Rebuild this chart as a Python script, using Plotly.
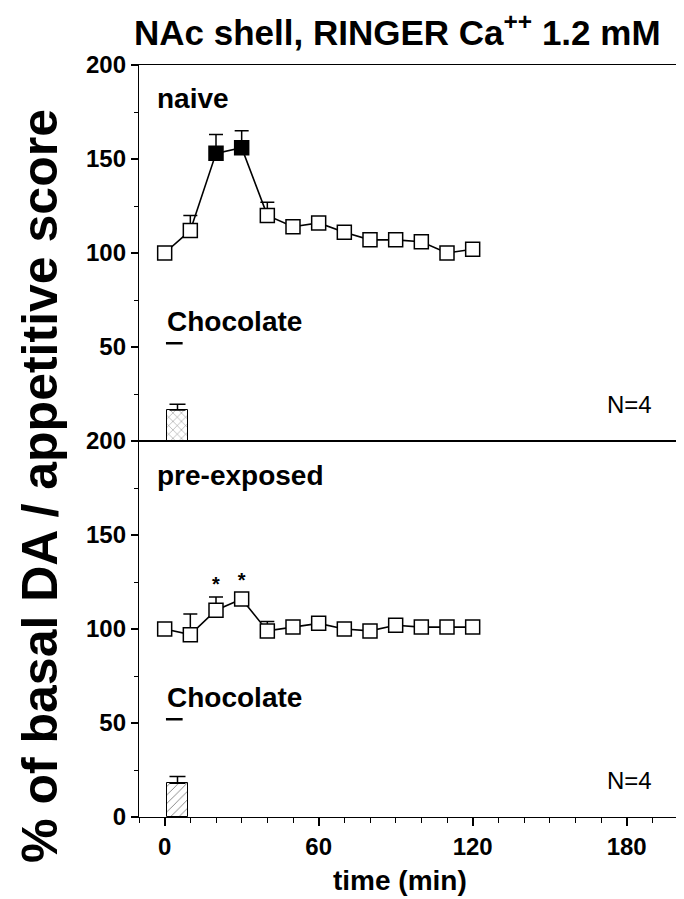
import plotly.graph_objects as go

# ---- data ----
time_min = [0, 10, 20, 30, 40, 50, 60, 70, 80, 90, 100, 110, 120]
naive_da = [100, 112, 153, 156, 120, 114, 116, 111, 107, 107, 106, 100, 102]
naive_err = [3, 8, 10, 9, 7, 3, 3, 3, 3, 3, 3, 3, 3]
naive_sig = [False, False, True, True, False, False, False, False, False, False, False, False, False]
pre_da = [100, 97, 110, 116, 99, 101, 103, 100, 99, 102, 101, 101, 101]
pre_err = [3, 11, 7, 3, 5, 3, 3, 3, 3, 3, 3, 3, 3]
pre_star = [False, False, True, True, False, False, False, False, False, False, False, False, False]

score_time = [5]
naive_score = [16.5]
naive_score_err = [3]
pre_score = [18]
pre_score_err = [3.5]

choc_x = [0.5, 7]
choc_level = 52

x_ticks = [0, 60, 120, 180]
y_ticks_top = [50, 100, 150, 200]
y_ticks_bottom = [0, 50, 100, 150, 200]

FONT = "Liberation Sans, Arial, Helvetica, sans-serif"

fig = go.Figure()

def add_panel(fig, vals, errs, filled, row_x, row_y, score, score_err, pattern):
    # score bar
    fig.add_trace(go.Bar(
        x=score_time, y=score, width=8, xaxis=row_x, yaxis=row_y,
        marker=dict(color="white", line=dict(color="black", width=1),
                    pattern=dict(shape=pattern, fgcolor="black", bgcolor="white",
                                 size=6, solidity=0.15)),
        error_y=dict(type="data", array=score_err, arrayminus=[0] * len(score),
                     symmetric=False, color="black", thickness=1.5, width=8),
        showlegend=False))
    # DA time course
    fig.add_trace(go.Scatter(
        x=time_min, y=vals, xaxis=row_x, yaxis=row_y, mode="lines+markers",
        line=dict(color="black", width=1.6),
        marker=dict(symbol="square", size=14,
                    color=["black" if f else "white" for f in filled],
                    line=dict(color="black", width=1.5)),
        error_y=dict(type="data", array=errs, arrayminus=[0] * len(errs),
                     symmetric=False, color="black", thickness=1.5, width=7),
        showlegend=False))
    # chocolate presentation marker
    fig.add_trace(go.Scatter(
        x=choc_x, y=[choc_level, choc_level], xaxis=row_x, yaxis=row_y,
        mode="lines", line=dict(color="black", width=2.5), showlegend=False))

add_panel(fig, naive_da, naive_err, naive_sig, "x", "y", naive_score, naive_score_err, "x")
add_panel(fig, pre_da, pre_err, [False] * len(pre_da), "x2", "y2", pre_score, pre_score_err, "/")

# asterisks (bottom panel)
star_x = [t for t, s in zip(time_min, pre_star) if s]
star_y = [v + e + 6 for v, e, s in zip(pre_da, pre_err, pre_star) if s]
fig.add_trace(go.Scatter(
    x=star_x, y=star_y, xaxis="x2", yaxis="y2", mode="text", text=["*"] * len(star_x),
    textfont=dict(family=FONT, size=20, color="black", weight="bold"),
    textposition="middle center", showlegend=False))

axis_common = dict(showline=True, linecolor="black", linewidth=1.3, mirror=True,
                   showgrid=False, zeroline=False)
tickfont = dict(family=FONT, size=24, color="black", weight="bold")

fig.update_layout(
    width=676, height=891,
    margin=dict(l=131, r=6, t=57, b=82),
    paper_bgcolor="white", plot_bgcolor="white",
    bargap=0,
    xaxis=dict(domain=[0, 1], range=[-10, 200], anchor="y", showticklabels=False,
               ticks="", **axis_common),
    yaxis=dict(domain=[0.5, 1], range=[0, 200], anchor="x", tickvals=y_ticks_top,
               ticks="outside", ticklen=7, tickwidth=1.5, tickcolor="black",
               tickfont=tickfont,
               minor=dict(tickvals=[25, 75, 125, 175], ticks="outside", ticklen=4,
                          tickwidth=1.2, tickcolor="black"),
               **axis_common),
    xaxis2=dict(domain=[0, 1], range=[-10, 200], anchor="y2", tickvals=x_ticks,
                ticks="outside", ticklen=8, tickwidth=1.5, tickcolor="black",
                tickfont=tickfont,
                minor=dict(dtick=10, tick0=0, ticks="outside", ticklen=5,
                           tickwidth=1.2, tickcolor="black"),
                **axis_common),
    yaxis2=dict(domain=[0, 0.5], range=[0, 200], anchor="x2", tickvals=y_ticks_bottom,
                ticks="outside", ticklen=7, tickwidth=1.5, tickcolor="black",
                tickfont=tickfont,
                minor=dict(tickvals=[25, 75, 125, 175], ticks="outside", ticklen=4,
                           tickwidth=1.2, tickcolor="black"),
                **axis_common),
)

bold = lambda s: dict(family=FONT, size=s, color="black", weight="bold")
ann = [
    dict(text="NAc shell, RINGER Ca<sup>++</sup> 1.2 mM", xref="paper", yref="paper",
         x=0.48, y=1.047, xanchor="center", yanchor="middle", showarrow=False, font=bold(35)),
    dict(text="% of basal DA / appetitive score", xref="paper", yref="paper",
         x=-0.184, y=0.44, xanchor="center", yanchor="middle", textangle=-90,
         showarrow=False, font=bold(50)),
    dict(text="time (min)", xref="paper", yref="paper", x=0.484, y=-0.084,
         xanchor="center", yanchor="middle", showarrow=False, font=bold(28)),
    dict(text="naive", xref="x domain", yref="y domain", x=0.03, y=0.91,
         xanchor="left", yanchor="middle", showarrow=False, font=bold(28)),
    dict(text="Chocolate", xref="x domain", yref="y domain", x=0.048, y=0.319,
         xanchor="left", yanchor="middle", showarrow=False, font=bold(28)),
    dict(text="N=4", xref="x domain", yref="y domain", x=0.955, y=0.096,
         xanchor="right", yanchor="middle", showarrow=False,
         font=dict(family=FONT, size=24, color="black")),
    dict(text="pre-exposed", xref="x2 domain", yref="y2 domain", x=0.03, y=0.907,
         xanchor="left", yanchor="middle", showarrow=False, font=bold(28)),
    dict(text="Chocolate", xref="x2 domain", yref="y2 domain", x=0.048, y=0.319,
         xanchor="left", yanchor="middle", showarrow=False, font=bold(28)),
    dict(text="N=4", xref="x2 domain", yref="y2 domain", x=0.955, y=0.096,
         xanchor="right", yanchor="middle", showarrow=False,
         font=dict(family=FONT, size=24, color="black")),
]
fig.update_layout(annotations=ann)

fig.write_html("out.html")
